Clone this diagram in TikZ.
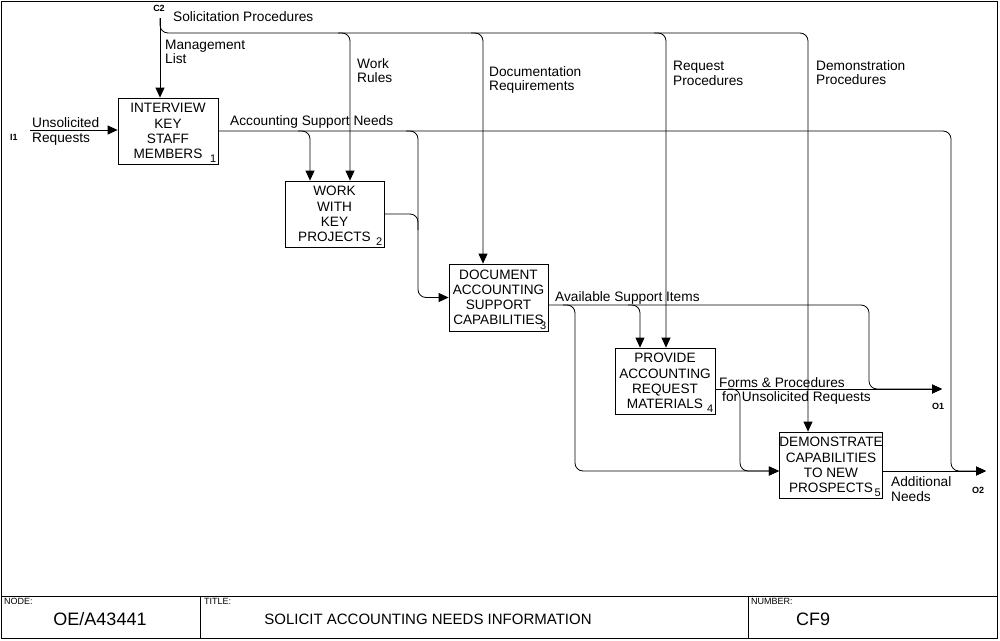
\documentclass[tikz,border=0pt]{standalone}
\usepackage{fontspec}
\setmainfont{Liberation Sans}
\usetikzlibrary{arrows.meta,calc}
\begin{document}
\begin{tikzpicture}[x=1pt,y=-1pt,
  flow/.style={draw=black,line width=0.8pt,rounded corners=8pt},
  arr/.style={-{Triangle[length=10pt,width=9pt]}},
  actbox/.style={draw=black,line width=0.8pt,minimum width=100pt,minimum height=66pt,align=center,inner sep=0pt,font=\fontsize{13.6}{15.2}\selectfont},
  num/.style={anchor=south east,inner sep=2pt,font=\fontsize{11}{11}\selectfont},
  lbl/.style={anchor=west,align=left,inner sep=0pt,font=\fontsize{13.7}{14.5}\selectfont},
  tinylbl/.style={inner sep=0pt,font=\fontsize{9}{9}\selectfont\bfseries},
  framestyle/.style={draw=black,line width=0.8pt},
  tbsmall/.style={anchor=north west,inner sep=0pt,font=\fontsize{9}{9}\selectfont},
  tbbig/.style={inner sep=0pt,font=\fontsize{18}{18}\selectfont}]
\useasboundingbox (0,0) rectangle (1000,640);
% frame and title block
\draw[framestyle] (1.5,1.5) rectangle (997.5,638.5);
\draw[framestyle] (1.5,596) -- (997.5,596);
\draw[framestyle] (200,596) -- (200,638.5);
\draw[framestyle] (748,596) -- (748,638.5);
\node[tbsmall] (tnode) at (4,598.5) {NODE:};
\node[tbbig] (tnodev) at (100,619) {OE/A43441};
\node[tbsmall] (ttitle) at (204,598.5) {TITLE:};
\node[inner sep=0pt,font=\fontsize{15}{15}\selectfont] (ttitlev) at (428,619) {SOLICIT ACCOUNTING NEEDS INFORMATION};
\node[tbsmall] (tnum) at (751,598.5) {NUMBER:};
\node[tbbig] (tnumv) at (813,619) {CF9};
% activity boxes
\node[actbox] (b1) at (168,131) {INTERVIEW\\KEY\\STAFF\\MEMBERS};
\node[num] (n1) at (b1.south east) {1};
\node[actbox,minimum width=99pt] (b2) at (334.5,214) {WORK\\WITH\\KEY\\PROJECTS};
\node[num] (n2) at (b2.south east) {2};
\node[actbox,minimum width=99pt,minimum height=67pt] (b3) at (498.5,297.5) {DOCUMENT\\ACCOUNTING\\SUPPORT\\CAPABILITIES};
\node[num] (n3) at (b3.south east) {3};
\node[actbox] (b4) at (665,381) {PROVIDE\\ACCOUNTING\\REQUEST\\MATERIALS};
\node[num] (n4) at (b4.south east) {4};
\node[actbox,minimum width=102pt] (b5) at (831,465) {DEMONSTRATE\\CAPABILITIES\\TO NEW\\PROSPECTS};
\node[num] (n5) at (b5.south east) {5};
% coordinates
\coordinate (c2) at (160,18);
\coordinate (i1) at (30,130);
\coordinate (o1) at (942,389);
\coordinate (o2) at (986,471);
\coordinate (cb) at (160,33);
\coordinate (cw) at (350,33);
\coordinate (cd) at (483,33);
\coordinate (cr) at (666,33);
\coordinate (cdm) at (808,33);
\coordinate (a1) at (310,131);
\coordinate (a2) at (418,131);
\coordinate (a3) at (951,131);
\coordinate (d0) at ($(b3.east)+(0,7.5)$);
\coordinate (d1) at (575,305);
\coordinate (d2) at (640,305);
\coordinate (d3) at (869,305);
\coordinate (f0) at ($(b4.east)+(0,8)$);
\coordinate (f1) at (740,389);
\coordinate (b5in) at ($(b5.west)+(0,6)$);
\coordinate (b5out) at (b5in -| b5.east);
% connectors
\draw[flow,arr] (i1) -- (i1 -| b1.west);
\draw[flow,arr] (c2) -- (c2 |- b1.north);
\draw[flow,arr] (c2) -- (cb) -- (cdm) -- (cdm |- b5.north);
\draw[flow,arr] ($(cw)+(-12,0)$) -- (cw) -- (cw |- b2.north);
\draw[flow,arr] ($(cd)+(-12,0)$) -- (cd) -- (cd |- b3.north);
\draw[flow,arr] ($(cr)+(-12,0)$) -- (cr) -- (cr |- b4.north);
\draw[flow,arr] (b1.east) -- (a3) -- (a3 |- o2) -- (o2);
\draw[flow,arr] ($(a1)+(-12,0)$) -- (a1) -- (a1 |- b2.north);
\draw[flow,arr] ($(a2)+(-12,0)$) -- (a2) -- (a2 |- b3.west) -- (b3.west);
\draw[flow] (b2.east) -- (b2.east -| a2) -- ($(b2.east -| a2)+(0,16)$);
\draw[flow,arr] (d0) -- (d3) -- (d3 |- o1) -- (o1);
\draw[flow,arr] ($(d1)+(-12,0)$) -- (d1) -- (d1 |- b5in) -- (b5in);
\draw[flow,arr] ($(d2)+(-12,0)$) -- (d2) -- (d2 |- b4.north);
\draw[flow,arr] (f0) -- (o1);
\draw[flow,arr] ($(f1)+(-12,0)$) -- (f1) -- (f1 |- b5in) -- (b5in);
\draw[flow,arr] (b5out) -- (o2);
% labels
\node[tinylbl] (lc2) at (159,8) {C2};
\node[lbl] (lsol) at (173,16.5) {Solicitation Procedures};
\node[lbl] (lman) at (165,52) {Management\\List};
\node[lbl] (lwork) at (357,70.5) {Work\\Rules};
\node[lbl] (ldoc) at (489,80) {Documentation\\Requirements};
\node[lbl] (lreq) at (673,73.5) {Request\\Procedures};
\node[lbl] (ldem) at (816,72.5) {Demonstration\\Procedures};
\node[lbl] (lunsol) at (32,131.5) {Unsolicited\\Requests};
\node[tinylbl] (li1) at (14,137) {I1};
\node[lbl] (lasn) at (230,121.5) {Accounting Support Needs};
\node[lbl] (lasi) at (555,297.5) {Available Support Items};
\node[lbl] (lfp1) at (719,382.5) {Forms \& Procedures};
\node[lbl] (lfp2) at (722,397.5) {for Unsolicited Requests};
\node[tinylbl] (lo1) at (938,406) {O1};
\node[lbl] (ladd) at (891,489) {Additional\\Needs};
\node[tinylbl] (lo2) at (978,490) {O2};
\end{tikzpicture}
\end{document}
